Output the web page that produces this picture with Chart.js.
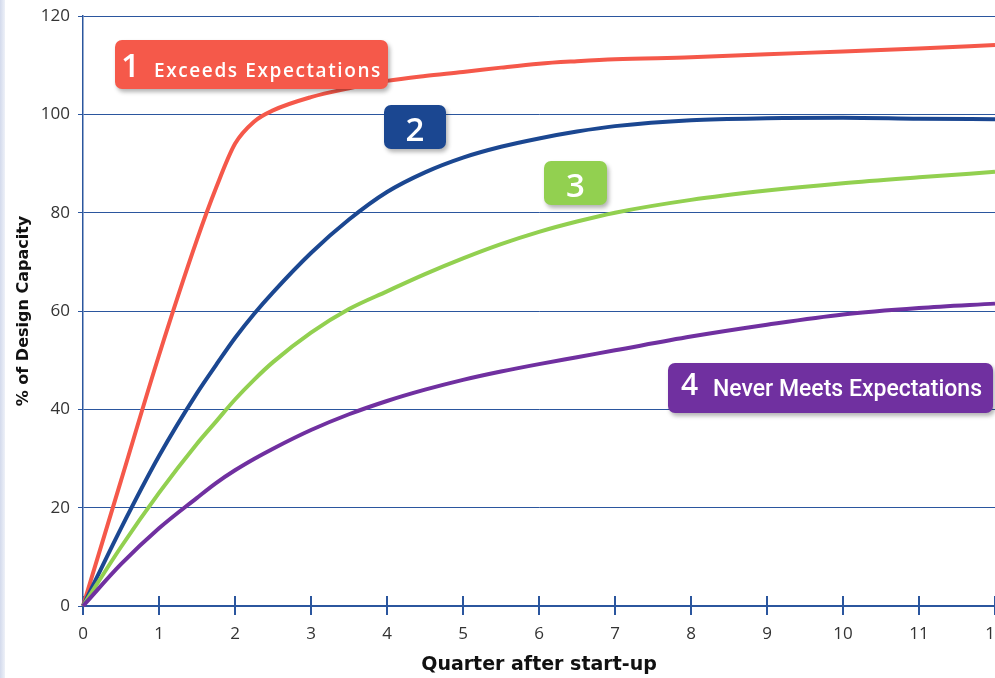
<!DOCTYPE html>
<html>
<head>
<meta charset="utf-8">
<script src="https://cdn.jsdelivr.net/npm/chart.js@4.4.1/dist/chart.umd.min.js"></script>
<style>
  html, body { margin: 0; padding: 0; background: #ffffff; overflow: hidden; }
  #wrap { position: relative; width: 995px; height: 678px; overflow: hidden; background: #ffffff; }
  #holder { position: absolute; left: 0; top: 0; width: 1020px; height: 678px; }
  #edge { position: absolute; left: 0; top: 0; width: 5px; height: 678px;
          background: linear-gradient(to right, #d3daec, #eef1f8); }
  .tag { position: absolute; color: #ffffff; border-radius: 7px;
         box-shadow: 2px 3px 4px rgba(0, 0, 0, 0.30); white-space: nowrap; }
  .tag span { position: absolute; line-height: 1; }
  .num { font-family: "Open Sans", sans-serif; font-weight: 600; }
  .txt1 { font-family: "Open Sans", sans-serif; font-weight: 600; font-size: 19px; letter-spacing: 1.6px; }
  .txt4 { font-family: Roboto, sans-serif; font-weight: 500; font-size: 23px; }
</style>
</head>
<body>
<div id="wrap">
  <div id="holder"><canvas id="chart" width="1020" height="678"></canvas></div>
  <div id="edge"></div>

  <div class="tag" style="left:115px;top:40px;width:273px;height:49px;background:#f5594a;">
    <span class="num" style="left:6px;top:8px;font-size:33px;">1</span>
    <span class="txt1" style="left:39px;top:21px;">Exceeds Expectations</span>
  </div>
  <div class="tag" style="left:384px;top:105px;width:62px;height:44px;background:#1b4791;">
    <span class="num" style="left:0;width:62px;text-align:center;top:7px;font-size:33px;">2</span>
  </div>
  <div class="tag" style="left:544px;top:161px;width:63px;height:44px;background:#92d050;">
    <span class="num" style="left:0;width:63px;text-align:center;top:7px;font-size:33px;">3</span>
  </div>
  <div class="tag" style="left:668px;top:363px;width:325px;height:50px;background:#7030a0;">
    <span class="num" style="left:13px;top:6px;font-size:30px;">4</span>
    <span class="txt4" style="left:45px;top:14px;">Never Meets Expectations</span>
  </div>
</div>

<script>
// Quarters after start-up at which each curve is sampled
const quarters = [0, 0.5, 1, 1.5, 1.75, 2, 2.25, 2.5, 3, 3.5, 4, 4.5, 5, 5.5, 6, 6.5, 7, 8, 9, 10, 11, 12];

// % of design capacity reached, one list per ramp-up profile
const exceedsExpectations = [0, 25.5, 51, 74.5, 85, 94, 98.5, 100.8, 103.5, 105.3, 106.8, 107.8, 108.6, 109.5, 110.3, 110.8, 111.2, 111.6, 112.2, 112.8, 113.4, 114.1];
const profile2 = [0, 15.8, 30.5, 43.3, 49, 54.5, 59.4, 63.8, 71.8, 78.6, 84.2, 88.2, 91.2, 93.4, 95.1, 96.5, 97.6, 98.8, 99.2, 99.3, 99.1, 99];
const profile3 = [0, 12, 23, 33, 37.5, 42, 46, 49.6, 55.6, 60.4, 64, 67.5, 70.7, 73.6, 76.1, 78.2, 80, 82.6, 84.5, 86, 87.2, 88.3];
const neverMeetsExpectations = [0, 8.5, 15.8, 22, 25, 27.6, 29.9, 32, 35.8, 39, 41.7, 44, 46, 47.7, 49.2, 50.6, 52, 54.8, 57.2, 59.3, 60.6, 61.5];

// Axis tick values
const xTickValues = [0, 1, 2, 3, 4, 5, 6, 7, 8, 9, 10, 11, 12];
const yTickValues = [0, 20, 40, 60, 80, 100, 120];

const AXIS_BLUE = '#2b569e';

const toPoints = (values) => quarters.map((q, i) => ({ x: q, y: values[i] }));

// Tick marks on the quarter axis that reach up into the plot area
const crossTicks = {
  id: 'crossTicks',
  beforeDatasetsDraw(chart) {
    const { ctx, scales: { x }, chartArea } = chart;
    ctx.save();
    ctx.strokeStyle = AXIS_BLUE;
    ctx.lineWidth = 2;
    x.ticks.forEach(t => {
      const px = Math.round(x.getPixelForValue(t.value));
      ctx.beginPath();
      ctx.moveTo(px, chartArea.bottom - 10);
      ctx.lineTo(px, chartArea.bottom);
      ctx.stroke();
    });
    ctx.restore();
  }
};

const lineStyle = (color) => ({
  borderColor: color,
  backgroundColor: color,
  borderWidth: 4,
  pointRadius: 0,
  fill: false,
  cubicInterpolationMode: 'monotone',
  clip: 4
});

new Chart(document.getElementById('chart'), {
  type: 'line',
  data: {
    datasets: [
      { label: 'Never Meets Expectations', data: toPoints(neverMeetsExpectations), ...lineStyle('#7030a0') },
      { label: '3', data: toPoints(profile3), ...lineStyle('#92d050') },
      { label: '2', data: toPoints(profile2), ...lineStyle('#1b4791') },
      { label: 'Exceeds Expectations', data: toPoints(exceedsExpectations), ...lineStyle('#f5584a') }
    ]
  },
  options: {
    responsive: false,
    animation: false,
    layout: { padding: { top: 16, right: 25, left: 0, bottom: 0 } },
    plugins: { legend: { display: false }, tooltip: { enabled: false } },
    scales: {
      x: {
        type: 'linear',
        min: 0,
        max: 12,
        afterBuildTicks: (s) => { s.ticks = xTickValues.map(v => ({ value: v })); },
        afterFit: (s) => { s.height = 72; s.paddingLeft = 0; s.paddingRight = 0; },
        grid: { drawOnChartArea: false, color: AXIS_BLUE, lineWidth: 2, tickLength: 9 },
        border: { color: AXIS_BLUE, width: 2 },
        ticks: {
          autoSkip: false, maxRotation: 0, padding: 9,
          color: '#333333', font: { family: 'Open Sans', size: 17 }
        },
        title: {
          display: true, text: 'Quarter after start-up',
          color: '#111111', font: { family: 'DejaVu Sans', weight: 'bold', size: 19 },
          padding: { top: 0, bottom: 2 }
        }
      },
      y: {
        min: 0,
        max: 120,
        afterBuildTicks: (s) => { s.ticks = yTickValues.map(v => ({ value: v })); },
        afterFit: (s) => { s.width = 83; s.paddingTop = 0; s.paddingBottom = 0; },
        grid: { color: AXIS_BLUE, lineWidth: 1, tickLength: 5 },
        border: { color: AXIS_BLUE, width: 1.5 },
        ticks: { padding: 8, color: '#333333', font: { family: 'Open Sans', size: 17 } },
        title: {
          display: true, text: '% of Design Capacity',
          color: '#111111', font: { family: 'DejaVu Sans', weight: 'bold', size: 16 },
          padding: { top: 14, bottom: 0 }
        }
      }
    }
  },
  plugins: [crossTicks]
});
</script>
</body>
</html>
